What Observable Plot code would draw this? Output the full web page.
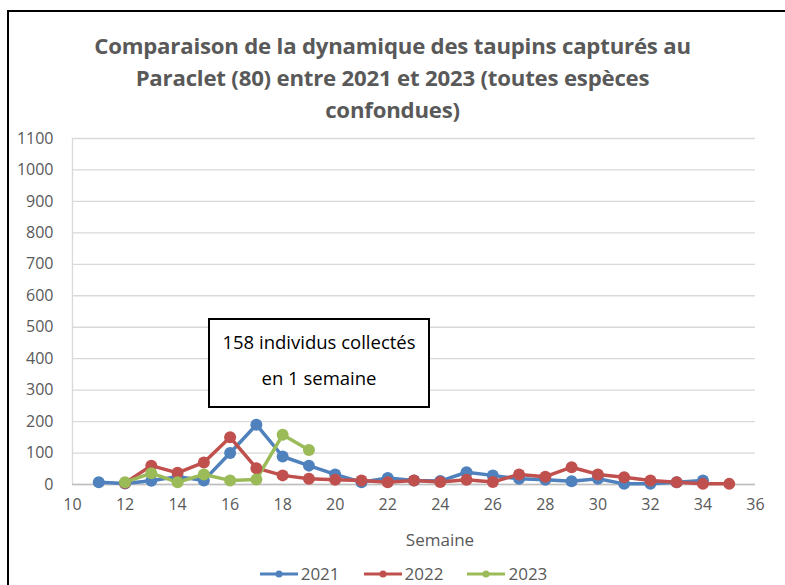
<!DOCTYPE html>
<html>
<head>
<meta charset="utf-8">
<script src="https://cdn.jsdelivr.net/npm/d3@7"></script>
<script src="https://cdn.jsdelivr.net/npm/@observablehq/plot@0.6"></script>
<style>
  html, body { margin: 0; padding: 0; background: #fff; }
  #wrap { position: relative; width: 785px; height: 585px; overflow: hidden; font-family: "Open Sans", sans-serif; }
  #frame { position: absolute; left: 7px; top: 10px; width: 820px; height: 600px; border: 2.5px solid #000; box-sizing: border-box; }
  #title { position: absolute; left: 0; width: 785px; top: 30px; text-align: center; color: #595959; font-weight: bold; font-size: 22.2px; line-height: 32px; letter-spacing: -0.2px; }
  #chart { position: absolute; left: 0; top: 0; }
  #xlabel { position: absolute; left: 340px; width: 200px; top: 528px; text-align: center; color: #595959; font-size: 17px; }
  #legend { position: absolute; left: 11px; width: 785px; top: 562px; display: flex; justify-content: center; gap: 24px; color: #595959; font-size: 17px; }
  .item { display: flex; align-items: center; gap: 3px; }
  #note { position: absolute; left: 208px; top: 318px; width: 222px; height: 90px; border: 2px solid #000; box-sizing: border-box; background: #fff; text-align: center; font-size: 18.5px; color: #000; line-height: 36px; padding-top: 4px; }
</style>
</head>
<body>
<div id="wrap">
  <div id="chart"></div>
  <div id="frame"></div>
  <div id="title">Comparaison de la dynamique des taupins capturés au<br>Paraclet (80) entre 2021 et 2023 (toutes espèces<br>confondues)</div>
  <div id="note">158 individus collectés<br>en 1 semaine</div>
  <div id="xlabel">Semaine</div>
  <div id="legend"></div>
</div>
<script>
const years = ["2021", "2022", "2023"];
const colors = ["#4f81bd", "#c0504d", "#9bbb59"];

const weeks2021 = [11, 12, 13, 14, 15, 16, 17, 18, 19, 20, 21, 22, 23, 24, 25, 26, 27, 28, 29, 30, 31, 32, 33, 34];
const values2021 = [7, 3, 12, 25, 13, 100, 190, 89, 60, 32, 7, 21, 13, 11, 39, 29, 18, 15, 10, 18, 2, 2, 7, 13];

const weeks2022 = [12, 13, 14, 15, 16, 17, 18, 19, 20, 21, 22, 23, 24, 25, 26, 27, 28, 29, 30, 31, 32, 33, 34, 35];
const values2022 = [5, 60, 37, 70, 150, 52, 29, 18, 15, 13, 7, 13, 8, 15, 8, 32, 25, 55, 32, 23, 13, 7, 2, 2];

const weeks2023 = [12, 13, 14, 15, 16, 17, 18, 19];
const values2023 = [7, 36, 7, 32, 13, 16, 158, 110];

const xTicks = [10, 12, 14, 16, 18, 20, 22, 24, 26, 28, 30, 32, 34, 36];
const yTicks = [0, 100, 200, 300, 400, 500, 600, 700, 800, 900, 1000, 1100];

const series = [
  [years[0], weeks2021, values2021],
  [years[1], weeks2022, values2022],
  [years[2], weeks2023, values2023]
];
const data = series.flatMap(([year, ws, vs]) => ws.map((w, i) => ({year, week: w, value: vs[i]})));

const chart = Plot.plot({
  width: 785,
  height: 560,
  marginLeft: 72,
  marginRight: 30,
  marginTop: 138,
  marginBottom: 76,
  style: {fontFamily: "Open Sans, sans-serif", fontSize: "16px", color: "#595959", background: "transparent"},
  x: {domain: [10, 36]},
  y: {domain: [0, 1100]},
  color: {domain: years, range: colors},
  marks: [
    Plot.gridY(yTicks, {stroke: "#d9d9d9", strokeOpacity: 1, strokeWidth: 1.3}),
    Plot.ruleX([10], {stroke: "#d9d9d9", strokeWidth: 1.3}),
    Plot.ruleY([0], {stroke: "#bfbfbf", strokeWidth: 1.5}),
    Plot.axisY(yTicks, {tickSize: 0, tickPadding: 19, label: null, fill: "#595959", fontSize: 16, tickFormat: d => String(d)}),
    Plot.axisX(xTicks, {tickSize: 0, tickPadding: 14, label: null, fill: "#595959", fontSize: 16, tickFormat: d => String(d)}),
    Plot.line(data, {x: "week", y: "value", z: "year", stroke: "year", strokeWidth: 3.5, strokeLinejoin: "round"}),
    Plot.dot(data, {x: "week", y: "value", fill: "year", r: 6})
  ]
});
document.getElementById("chart").appendChild(chart);

const legend = document.getElementById("legend");
years.forEach((y, i) => {
  const item = document.createElement("div");
  item.className = "item";
  item.innerHTML = `<svg width="38" height="12"><line x1="0" y1="6" x2="38" y2="6" stroke="${colors[i]}" stroke-width="3"/><circle cx="19" cy="6" r="3.5" fill="${colors[i]}"/></svg><span>${y}</span>`;
  legend.appendChild(item);
});
</script>
</body>
</html>
